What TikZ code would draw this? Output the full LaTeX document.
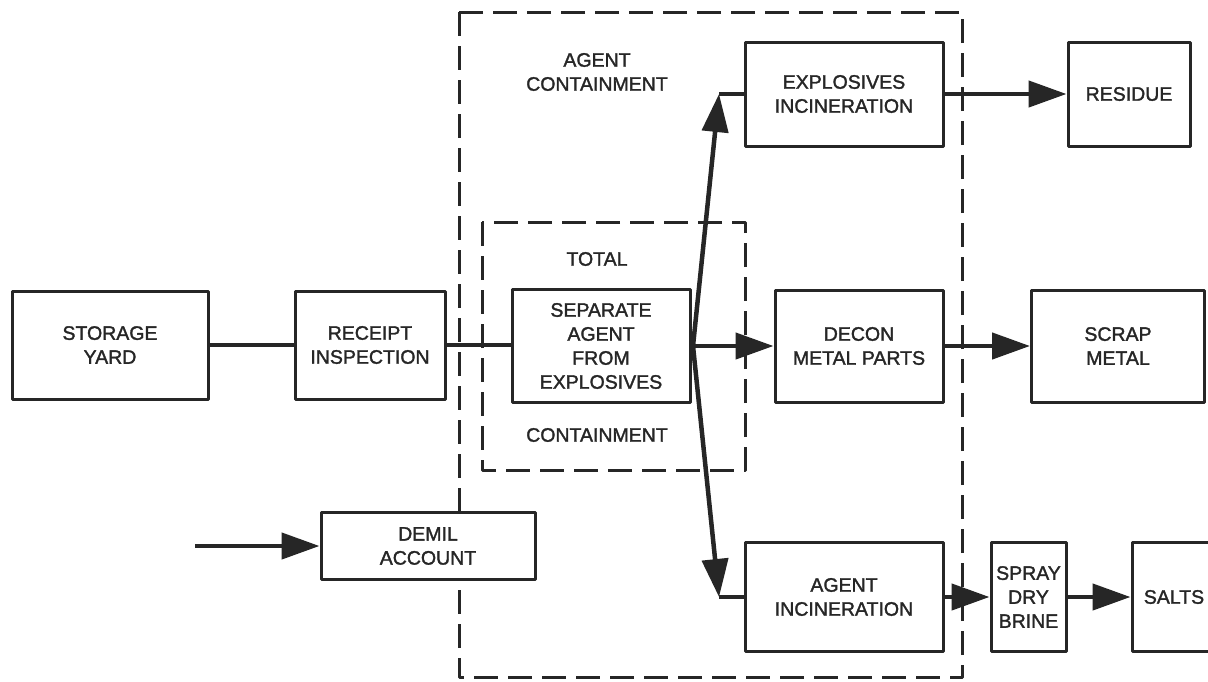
\documentclass[tikz,border=0pt]{standalone}
\usepackage{fontspec}
\setmainfont[FakeBold=1.6]{Liberation Sans}
\usetikzlibrary{arrows.meta}
\begin{document}
\begin{tikzpicture}[x=1pt,y=-1pt,
  line join=round,
  box/.style={draw=black!85, fill=white, line width=3pt, inner sep=0pt, align=center,
    font=\fontsize{19.5}{24}\selectfont, text=black!85},
  lbl/.style={align=center, font=\fontsize{19.5}{24}\selectfont, text=black!85},
  zone/.style={draw=black!85, line width=3pt, dash pattern=on 24pt off 10pt},
  flow/.style={draw=black!85, line width=4.5pt},
  flowarrow/.style={flow, -{Triangle[length=38pt,width=26pt]}},
]
\useasboundingbox (0,0) rectangle (1208,681);
\clip (0,0) rectangle (1208,681);

% containment zones
\draw[zone] (459,12) rectangle (962,677);
\draw[zone] (482,222) rectangle (745,470);
\node[lbl] (agentzone) at (597,72) {AGENT\\CONTAINMENT};
\node[lbl] (totallbl) at (597,259) {TOTAL};
\node[lbl] (contlbl) at (597,435) {CONTAINMENT};

% process boxes
\node[box, minimum width=196pt, minimum height=108pt] (yard) at (110,345) {STORAGE\\YARD};
\node[box, minimum width=150pt, minimum height=108pt] (receipt) at (370,345) {RECEIPT\\INSPECTION};
\node[box, minimum width=178pt, minimum height=113pt] (separate) at (601,346) {SEPARATE\\AGENT\\FROM\\EXPLOSIVES};
\node[box, minimum width=198pt, minimum height=104pt] (explinc) at (844,94) {EXPLOSIVES\\INCINERATION};
\node[box, minimum width=122pt, minimum height=104pt] (residue) at (1129,94) {RESIDUE};
\node[box, minimum width=168pt, minimum height=112pt] (decon) at (859,346) {DECON\\METAL PARTS};
\node[box, minimum width=173pt, minimum height=112pt] (scrap) at (1118,346) {SCRAP\\METAL};
\node[box, minimum width=198pt, minimum height=109pt] (agentinc) at (844,597) {AGENT\\INCINERATION};
\node[box, minimum width=75pt, minimum height=109pt] (spray) at (1028.5,597) {SPRAY\\DRY\\BRINE};
\node[box, minimum width=84pt, minimum height=109pt, text width=84pt] (salts) at (1174,597) {SALTS};
\node[box, minimum width=214pt, minimum height=67pt] (demil) at (428,546) {DEMIL\\ACCOUNT};

% junction points of the split stream
\coordinate (split) at (693,346);
\coordinate (upbend) at (719,94);
\coordinate (downbend) at (719,597);
\coordinate (feed) at (195,546);

% connectors
\draw[flow] (yard.east) -- (receipt.west);
\draw[flow] (receipt.east) -- (receipt.east -| separate.west);
\draw[flowarrow] (split) -- (decon.west);
\draw[flowarrow] (split) -- (upbend);
\draw[flow] (upbend) -- (explinc.west);
\draw[flowarrow] (split) -- (downbend);
\draw[flow] (downbend) -- (agentinc.west);
\draw[flowarrow] (explinc.east) -- (residue.west);
\draw[flowarrow] (decon.east) -- (scrap.west);
\draw[flowarrow] (agentinc.east) -- (spray.west);
\draw[flowarrow] (spray.east) -- (salts.west);
\draw[flowarrow] (feed) -- (demil.west);
\end{tikzpicture}
\end{document}
